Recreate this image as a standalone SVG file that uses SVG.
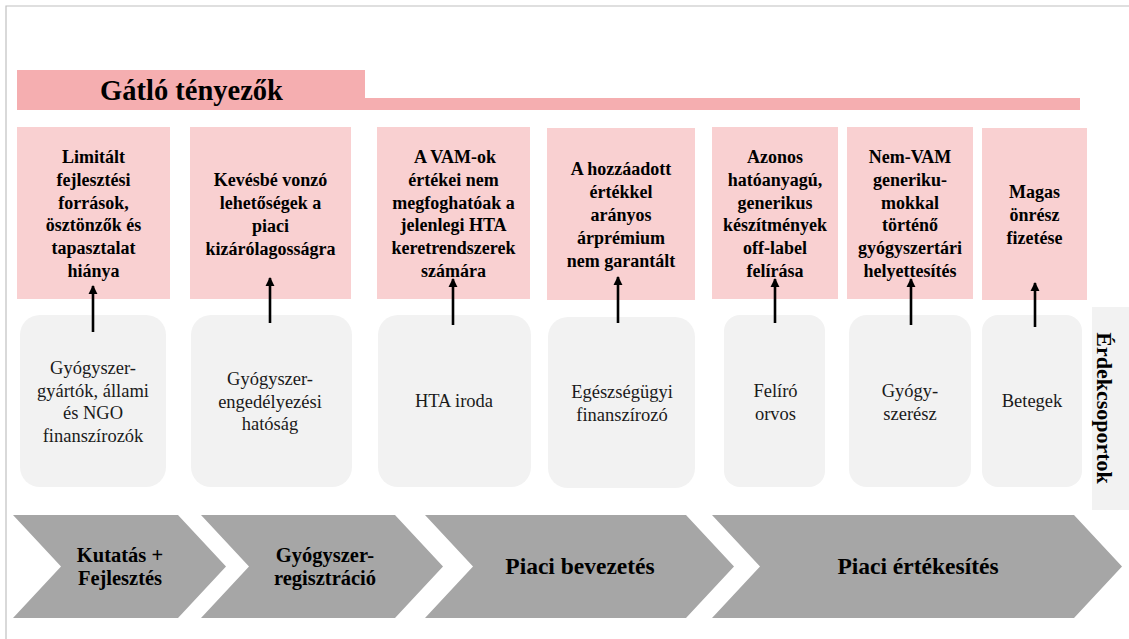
<svg xmlns="http://www.w3.org/2000/svg" width="1129" height="639" viewBox="0 0 1129 639">
  <defs>
    <style>
      .frame { fill: none; stroke: #c0c0c0; stroke-width: 1.2; }
      .band { fill: #f5aeb0; }
      .barrier { fill: #f9d0d1; }
      .actor { fill: #f2f2f2; }
      .stage { fill: #a6a6a6; }
      .bt { font-family: "Liberation Serif", "Times New Roman", serif; font-weight: bold; font-size: 18px; fill: #000; text-anchor: middle; }
      .rt { font-family: "Liberation Serif", "Times New Roman", serif; font-size: 18.5px; fill: #1a1a1a; text-anchor: middle; }
      .st { font-family: "Liberation Serif", "Times New Roman", serif; font-weight: bold; font-size: 20.5px; fill: #000; text-anchor: middle; }
      .st1 { font-family: "Liberation Serif", "Times New Roman", serif; font-weight: bold; font-size: 23.5px; fill: #000; text-anchor: middle; }
      .title { font-family: "Liberation Serif", "Times New Roman", serif; font-weight: bold; font-size: 28.5px; fill: #000; text-anchor: middle; }
      .side { font-family: "Liberation Serif", "Times New Roman", serif; font-weight: bold; font-size: 22px; fill: #000; text-anchor: middle; }
      .link { stroke: #000; stroke-width: 2.6; fill: none; marker-end: url(#head); }
    </style>
    <marker id="head" viewBox="0 0 10 10" refX="9" refY="5" markerWidth="3.6" markerHeight="3.6" orient="auto" markerUnits="strokeWidth">
      <path d="M0,0 L10,5 L0,10 Z" fill="#000"/>
    </marker>
  </defs>

  <!-- outer frame (top and left edges) -->
  <path class="frame" d="M6,639 V6 H1129"/>

  <!-- header band -->
  <g id="header">
    <path class="band" d="M17,70 H365 V98 H1080 V110 H17 Z"/>
    <text class="title" x="191.5" y="100">Gátló tényezők</text>
  </g>

  <!-- barriers -->
  <g id="barrier1">
    <rect class="barrier" x="17" y="127" width="153" height="172"/>
    <text class="bt" x="93.5" y="163">Limitált</text>
    <text class="bt" x="93.5" y="185.8">fejlesztési</text>
    <text class="bt" x="93.5" y="208.6">források,</text>
    <text class="bt" x="93.5" y="231.4">ösztönzők és</text>
    <text class="bt" x="93.5" y="254.2">tapasztalat</text>
    <text class="bt" x="93.5" y="277">hiánya</text>
  </g>
  <g id="barrier2">
    <rect class="barrier" x="190" y="127" width="161" height="172"/>
    <text class="bt" x="270.5" y="186">Kevésbé vonzó</text>
    <text class="bt" x="270.5" y="209">lehetőségek a</text>
    <text class="bt" x="270.5" y="232">piaci</text>
    <text class="bt" x="270.5" y="255">kizárólagosságra</text>
  </g>
  <g id="barrier3">
    <rect class="barrier" x="377" y="127" width="153" height="172"/>
    <text class="bt" x="455" y="163">A VAM-ok</text>
    <text class="bt" x="453.5" y="185.8">értékei nem</text>
    <text class="bt" x="453.5" y="208.6">megfoghatóak a</text>
    <text class="bt" x="453.5" y="231.4">jelenlegi HTA</text>
    <text class="bt" x="453.5" y="254.2">keretrendszerek</text>
    <text class="bt" x="453.5" y="277">számára</text>
  </g>
  <g id="barrier4">
    <rect class="barrier" x="547" y="128" width="148" height="172"/>
    <text class="bt" x="621" y="175">A hozzáadott</text>
    <text class="bt" x="621" y="198">értékkel</text>
    <text class="bt" x="621" y="221">arányos</text>
    <text class="bt" x="621" y="244">árprémium</text>
    <text class="bt" x="621" y="267">nem garantált</text>
  </g>
  <g id="barrier5">
    <rect class="barrier" x="712" y="127" width="126" height="172"/>
    <text class="bt" x="775" y="163">Azonos</text>
    <text class="bt" x="775" y="185.8">hatóanyagú,</text>
    <text class="bt" x="775" y="208.6">generikus</text>
    <text class="bt" x="775" y="231.4">készítmények</text>
    <text class="bt" x="775" y="254.2">off-label</text>
    <text class="bt" x="775" y="277">felírása</text>
  </g>
  <g id="barrier6">
    <rect class="barrier" x="847" y="127" width="126" height="172"/>
    <text class="bt" x="910" y="163">Nem-VAM</text>
    <text class="bt" x="910" y="185.8">generiku-</text>
    <text class="bt" x="910" y="208.6">mokkal</text>
    <text class="bt" x="910" y="231.4">történő</text>
    <text class="bt" x="910" y="254.2">gyógyszertári</text>
    <text class="bt" x="910" y="277">helyettesítés</text>
  </g>
  <g id="barrier7">
    <rect class="barrier" x="982" y="128" width="105" height="172"/>
    <text class="bt" x="1034.5" y="198">Magas</text>
    <text class="bt" x="1034.5" y="221">önrész</text>
    <text class="bt" x="1034.5" y="244">fizetése</text>
  </g>

  <!-- stakeholders -->
  <g id="actor1">
    <rect class="actor" x="20" y="315" width="146" height="172" rx="20"/>
    <text class="rt" x="93" y="374">Gyógyszer-</text>
    <text class="rt" x="93" y="396.7">gyártók, állami</text>
    <text class="rt" x="93" y="419.4">és NGO</text>
    <text class="rt" x="93" y="442">finanszírozók</text>
  </g>
  <g id="actor2">
    <rect class="actor" x="191" y="315" width="161" height="172" rx="20"/>
    <text class="rt" x="270" y="385">Gyógyszer-</text>
    <text class="rt" x="270" y="407.5">engedélyezési</text>
    <text class="rt" x="270" y="430">hatóság</text>
  </g>
  <g id="actor3">
    <rect class="actor" x="378" y="315" width="153" height="172" rx="20"/>
    <text class="rt" x="454" y="407">HTA iroda</text>
  </g>
  <g id="actor4">
    <rect class="actor" x="548" y="317" width="147" height="171" rx="20"/>
    <text class="rt" x="622" y="398">Egészségügyi</text>
    <text class="rt" x="622" y="420.5">finanszírozó</text>
  </g>
  <g id="actor5">
    <rect class="actor" x="724" y="315" width="101" height="172" rx="16"/>
    <text class="rt" x="775.5" y="397">Felíró</text>
    <text class="rt" x="775.5" y="419.5">orvos</text>
  </g>
  <g id="actor6">
    <rect class="actor" x="849" y="315" width="122" height="172" rx="18"/>
    <text class="rt" x="910" y="397">Gyógy-</text>
    <text class="rt" x="910" y="419.5">szerész</text>
  </g>
  <g id="actor7">
    <rect class="actor" x="982" y="315" width="100" height="172" rx="16"/>
    <text class="rt" x="1032" y="407">Betegek</text>
  </g>
  <g id="stakeholders-label">
    <rect class="actor" x="1092" y="307" width="37" height="203"/>
    <text class="side" transform="translate(1097,408) rotate(90)">Érdekcsoportok</text>
  </g>

  <!-- arrows from stakeholders to barriers -->
  <g id="connectors">
    <line class="link" x1="93" y1="332" x2="93" y2="286"/>
    <line class="link" x1="270" y1="323" x2="270" y2="278"/>
    <line class="link" x1="453" y1="325" x2="453" y2="279"/>
    <line class="link" x1="618" y1="323" x2="618" y2="277"/>
    <line class="link" x1="775" y1="323" x2="775" y2="279"/>
    <line class="link" x1="911" y1="325" x2="911" y2="279"/>
    <line class="link" x1="1035" y1="327" x2="1035" y2="283"/>
  </g>

  <!-- value chain stages -->
  <g id="stage1">
    <polygon class="stage" points="13,515 178,515 226,566.5 178,618 13,618 61,566.5"/>
    <text class="st" x="120" y="562">Kutatás +</text>
    <text class="st" x="120" y="584.5">Fejlesztés</text>
  </g>
  <g id="stage2">
    <polygon class="stage" points="201,515 395,515 443,566.5 395,618 201,618 249,566.5"/>
    <text class="st" x="325" y="562">Gyógyszer-</text>
    <text class="st" x="325" y="584.5">regisztráció</text>
  </g>
  <g id="stage3">
    <polygon class="stage" points="425,515 686,515 734,566.5 686,618 425,618 473,566.5"/>
    <text class="st1" x="580" y="574">Piaci bevezetés</text>
  </g>
  <g id="stage4">
    <polygon class="stage" points="712,515 1074,515 1122,566.5 1074,618 712,618 760,566.5"/>
    <text class="st1" x="918" y="574">Piaci értékesítés</text>
  </g>
</svg>
